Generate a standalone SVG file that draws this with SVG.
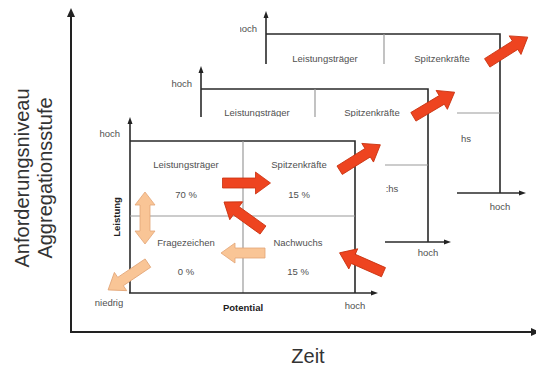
<svg xmlns="http://www.w3.org/2000/svg" width="536" height="367" viewBox="0 0 536 367">
<style>
.t{font-family:"Liberation Sans",Arial,sans-serif;font-size:9.5px;fill:#505050;text-anchor:middle}
.b{font-weight:bold;fill:#222}
.big{font-family:"Liberation Sans",Arial,sans-serif;font-size:20px;fill:#333;text-anchor:middle}
.ax{stroke:#2a2a2a;stroke-width:1.6;fill:none}
.mid{stroke:#9a9a9a;stroke-width:1.2;fill:none}
.main{stroke:#222;stroke-width:2;fill:none}
.bg{fill:#fff}
.red{fill:#EE4420;stroke:#C8300E;stroke-width:0.8}
.peach{fill:#F9C596;stroke:#E2A577;stroke-width:0.8}
.tip{fill:#222}
</style>
<defs>
<path id="ra" d="M-24,-5 L9,-5 L9,-11 L24,0 L9,11 L9,5 L-24,5 Z"/>
<clipPath id="c3"><rect x="240" y="0" width="40" height="60"/></clipPath>
</defs>
<rect width="536" height="367" fill="#fff"/>

<g id="main-axes">
<line class="main" x1="71" y1="14" x2="71" y2="332"/>
<path class="tip" d="M71,8 L67,17 L75,17 Z"/>
<line class="main" x1="70" y1="332" x2="536" y2="332"/>
<path class="tip" d="M540,332 L531,328 L531,336 Z"/>
<text class="big" transform="translate(29,178) rotate(-90)">Anforderungsniveau</text>
<text class="big" transform="translate(52,178) rotate(-90)">Aggregationsstufe</text>
<text class="big" x="308" y="363">Zeit</text>
</g>

<g id="layer3">
<line class="ax" x1="266" y1="16" x2="266" y2="64"/>
<path class="tip" d="M266,11 L263.5,18 L268.5,18 Z"/>
<polyline class="ax" points="266,34 500,34 500,193"/>
<line class="mid" x1="384" y1="34" x2="384" y2="64"/>
<line class="mid" x1="457" y1="113" x2="500" y2="113"/>
<line class="ax" x1="457" y1="193" x2="521" y2="193"/>
<path class="tip" d="M526,193 L519,190.5 L519,195.5 Z"/>
<text class="t" x="257" y="32" style="text-anchor:end" clip-path="url(#c3)">hoch</text>
<text class="t" x="325" y="62">Leistungsträger</text>
<text class="t" x="442" y="62">Spitzenkräfte</text>
<text class="t" x="466" y="141.5">hs</text>
<text class="t" x="500" y="210">hoch</text>
</g>

<g id="layer2">
<rect class="bg" x="160" y="64" width="297" height="200"/>
<line class="ax" x1="201" y1="71" x2="201" y2="118"/>
<path class="tip" d="M201,66 L198.5,73 L203.5,73 Z"/>
<polyline class="ax" points="201,89 428,89 428,242"/>
<line class="mid" x1="315" y1="89" x2="315" y2="118"/>
<line class="mid" x1="385" y1="165" x2="428" y2="165"/>
<line class="ax" x1="385" y1="242" x2="446" y2="242"/>
<path class="tip" d="M451,242 L444,239.5 L444,244.5 Z"/>
<text class="t" x="192" y="87" style="text-anchor:end">hoch</text>
<text class="t" x="257" y="115.5">Leistungsträger</text>
<text class="t" x="372" y="115.5">Spitzenkräfte</text>
<text class="t" x="392" y="192">:hs</text>
<text class="t" x="428" y="256">hoch</text>
</g>

<g id="layer1">
<rect class="bg" x="88" y="117" width="297" height="205"/>
<line class="ax" x1="130" y1="122" x2="130" y2="293"/>
<path class="tip" d="M130,117 L127.5,124 L132.5,124 Z"/>
<polyline class="ax" points="130,141 355,141 355,293"/>
<line class="mid" x1="243" y1="141" x2="243" y2="293"/>
<line class="mid" x1="130" y1="216" x2="355" y2="216"/>
<line class="ax" x1="129" y1="293" x2="373" y2="293"/>
<path class="tip" d="M378,293 L371,290.5 L371,295.5 Z"/>
<text class="t" x="120" y="137" style="text-anchor:end">hoch</text>
<text class="t" x="109" y="306">niedrig</text>
<text class="t b" x="243" y="311">Potential</text>
<text class="t" x="355" y="309">hoch</text>
<text class="t b" transform="translate(120,217) rotate(-90)">Leistung</text>
<text class="t" x="186" y="167.5">Leistungsträger</text>
<text class="t" x="186" y="197.5">70 %</text>
<text class="t" x="299" y="167.5">Spitzenkräfte</text>
<text class="t" x="299" y="197.5">15 %</text>
<text class="t" x="186" y="245.5">Fragezeichen</text>
<text class="t" x="186" y="274.5">0 %</text>
<text class="t" x="298" y="245.5">Nachwuchs</text>
<text class="t" x="298" y="274.5">15 %</text>
</g>

<g id="connectors">
<path class="peach" d="M145,192 L155,205 L150,205 L150,231 L155,231 L145,244 L135,231 L140,231 L140,205 L135,205 Z"/>
<path class="peach" d="M265,248 L235,248 L235,243 L221,253 L235,263 L235,258 L265,258 Z"/>
<use href="#ra" class="peach" transform="translate(128,276.5) rotate(146)"/>
<use href="#ra" class="red" transform="translate(246.5,183)"/>
<use href="#ra" class="red" transform="translate(243.5,216) rotate(215.7)"/>
<use href="#ra" class="red" transform="translate(361.5,262.5) rotate(203.8)"/>
<use href="#ra" class="red" transform="translate(360,157.5) rotate(-32)"/>
<use href="#ra" class="red" transform="translate(434,104.5) rotate(-30.8)"/>
<use href="#ra" class="red" transform="translate(507.5,50) rotate(-32.4)"/>
</g>
</svg>
